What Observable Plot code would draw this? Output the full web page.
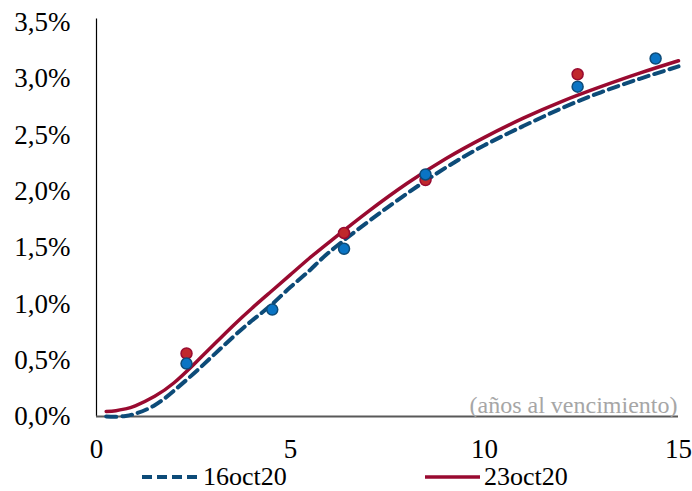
<!DOCTYPE html>
<html><head><meta charset="utf-8">
<script src="https://cdn.jsdelivr.net/npm/d3@7"></script>
<script src="https://cdn.jsdelivr.net/npm/@observablehq/plot@0.6"></script>
<style>
body{margin:0;background:#fff;}
#wrap{position:relative;width:692px;height:491px;}
.leg{position:absolute;top:464px;height:26px;display:flex;align-items:center;font-size:26px;line-height:26px;color:#000;font-family:'Liberation Serif',serif;}
</style></head><body>
<div id="wrap"><div id="chart"></div>
<div class="leg" style="left:142px"><svg width="55" height="8" style="margin-right:6px"><line x1="0" y1="4" x2="55" y2="4" stroke="#0d4b78" stroke-width="4" stroke-dasharray="10,5"/></svg><span>16oct20</span></div>
<div class="leg" style="left:425px"><svg width="55" height="8" style="margin-right:4px"><line x1="0" y1="4" x2="55" y2="4" stroke="#990a30" stroke-width="3.5"/></svg><span>23oct20</span></div>
</div>
<script>
// 16oct20 fitted curve (years, %)
const curve16x = [0.25,0.5,0.75,1.0,1.5,2.0,2.5,3.0,3.5,4.0,4.5,5,5.5,6,7,8,9,10,11,12,13,14,15];
const curve16y = [0.0,-0.003,0.005,0.025,0.10,0.23,0.38,0.54,0.70,0.85,0.99,1.15,1.30,1.46,1.73,1.98,2.21,2.41,2.58,2.74,2.88,3.00,3.11];
// 23oct20 fitted curve
const curve23x = [0.25,0.5,0.75,1.0,1.5,2.0,2.5,3.0,3.5,4.0,4.5,5,5.5,6,7,8,9,10,11,12,13,14,15];
const curve23y = [0.045,0.052,0.068,0.095,0.18,0.30,0.46,0.63,0.80,0.96,1.11,1.26,1.41,1.55,1.82,2.07,2.29,2.48,2.65,2.80,2.93,3.05,3.16];
// observed bond yields
const obs16x = [2.32,4.53,6.38,8.48,12.40,14.41];
const obs16y = [0.47,0.95,1.49,2.15,2.93,3.18];
const obs23x = [2.32,6.38,8.48,12.40];
const obs23y = [0.56,1.63,2.10,3.04];
const yTicks = [0,0.5,1,1.5,2,2.5,3,3.5];
const xTicks = [0,5,10,15];
const axisNote = "(a\u00f1os al vencimiento)";

const c16 = curve16x.map((x,i)=>({x,y:curve16y[i]}));
const c23 = curve23x.map((x,i)=>({x,y:curve23y[i]}));
const o16 = obs16x.map((x,i)=>({x,y:obs16y[i]}));
const o23 = obs23x.map((x,i)=>({x,y:obs23y[i]}));

const fmt = d => d.toFixed(1).replace('.',',') + '%';

const chart = Plot.plot({
  width: 692, height: 491,
  marginLeft: 96, marginRight: 14, marginTop: 22, marginBottom: 75,
  style: {fontFamily: "'Liberation Serif', serif", fontSize: "27px", color: "#000", background: "#fff", overflow: "visible"},
  x: {domain: [0,15], ticks: xTicks, tickSize: 0, tickPadding: 22, tickFormat: d=>String(d), label: null},
  y: {domain: [0,3.5], ticks: yTicks, tickSize: 0, tickPadding: 26, tickFormat: fmt, label: null},
  marks: [
    Plot.ruleX([0], {y1: 3.53, y2: 0, stroke: "#000", strokeWidth: 1.2}),
    Plot.ruleY([0], {x1: 0, x2: 15, stroke: "#595959", strokeWidth: 2.2}),
    Plot.line(c16, {x:"x", y:"y", curve:"natural", stroke:"#0d4b78", strokeWidth:4, strokeDasharray:"10,6"}),
    Plot.line(c23, {x:"x", y:"y", curve:"natural", stroke:"#990a30", strokeWidth:3.5}),
    Plot.dot(o23, {x:"x", y:"y", r:5.5, fill:"#c0282c", stroke:"#990a30", strokeWidth:1.5}),
    Plot.dot(o16, {x:"x", y:"y", r:5.5, fill:"#0a74c4", stroke:"#0d4b78", strokeWidth:1.5}),
    Plot.text([axisNote], {frameAnchor:"bottom-right", dx:-1, dy:-4, fill:"#a6a6a6", fontSize:24, textAnchor:"end", lineAnchor:"bottom"})
  ]
});
document.getElementById("chart").appendChild(chart);
</script>
</body></html>
